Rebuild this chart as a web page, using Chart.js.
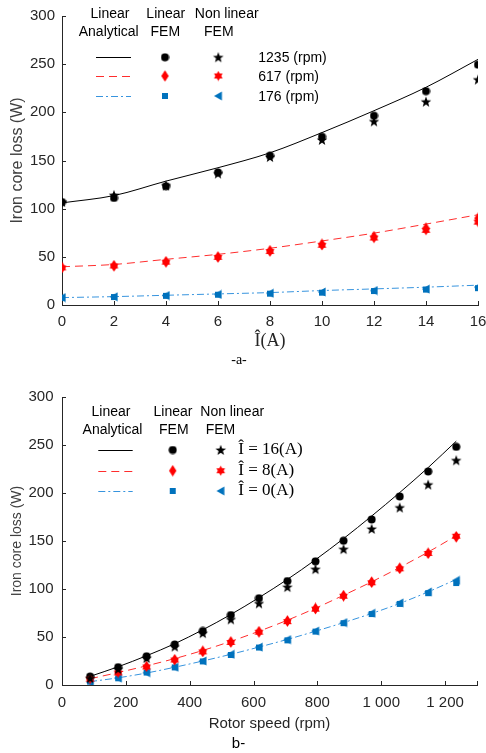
<!DOCTYPE html>
<html><head><meta charset="utf-8">
<script src="https://cdn.jsdelivr.net/npm/chart.js@4/dist/chart.umd.min.js"></script>
<style>
html,body{margin:0;padding:0;background:#fff;}
#wrap{position:relative;width:486px;height:753px;overflow:hidden;}
canvas{position:absolute;left:0;}
</style></head><body>
<div id="wrap">
<canvas id="c1" width="486" height="376" style="top:0;width:486px;height:376px"></canvas>
<canvas id="c2" width="486" height="377" style="top:376px;width:486px;height:377px"></canvas>
</div>
<script>
// ---------- DATA: chart (a) ----------
const currentA = [0, 2, 4, 6, 8, 10, 12, 14, 16];
const a1235Analytical = [106, 113.6, 128.6, 142.5, 158, 179, 201.7, 226, 255];
const a1235LinFEM     = [106.9, 111.1, 123.3, 137.6, 155, 174.6, 196.5, 222, 249.5];
const a1235NonLinFEM  = [107, 114, 124, 136.5, 153.6, 171.4, 190.6, 211, 234];
const a617Analytical  = [39.7, 42.1, 47.4, 52.6, 58.9, 66.5, 74.6, 84, 93.7];
const a617LinFEM      = [39, 40.8, 45, 50, 56.4, 63, 71, 79.8, 90];
const a617NonLinFEM   = [38.5, 40.5, 44.5, 49.5, 55.5, 62, 69.5, 77.5, 86];
const a176Analytical  = [7.7, 8.7, 10.1, 11.5, 12.9, 15, 16.7, 18.5, 20.6];
const a176LinFEM      = [7.5, 8.3, 9.5, 10.7, 11.8, 12.8, 14.5, 16, 17.5];
const a176NonLinFEM   = [7.7, 8.5, 9.8, 11, 12.2, 13.5, 15, 16.5, 18.5];
const xTicksA = [0, 2, 4, 6, 8, 10, 12, 14, 16];
const legendLabelsA = ['1235 (rpm)', '617 (rpm)', '176 (rpm)'];

// ---------- DATA: chart (b) ----------
const speedRpm = [88, 176, 265, 353, 441, 529, 617, 706, 794, 882, 970, 1058, 1147, 1235];
const b16Analytical = [9, 19, 30.5, 43, 57.5, 73.5, 91, 110, 130.5, 152.5, 176, 200.5, 226.5, 254];
const b16LinFEM     = [8.8, 18.6, 29.9, 42.2, 56.3, 72.9, 90.4, 108.3, 128.8, 150.3, 172.4, 196.4, 222.4, 248.1];
const b16NonLinFEM  = [7, 16.5, 28, 40, 54, 68.3, 85, 102, 120.7, 141.5, 162.6, 184.8, 208.7, 234];
const b8Analytical  = [6.5, 13, 20, 27.5, 36, 45.5, 56, 67.5, 80, 93.5, 107.5, 122.5, 138.5, 155.5];
const b8LinFEM      = [6.3, 13, 19.3, 26.4, 35.2, 45, 55.6, 66.8, 79.8, 93.2, 107.3, 121.8, 137.3, 154.2];
const b8NonLinFEM   = [6, 12.5, 18.8, 26, 34.5, 44.3, 55, 66, 79, 92.5, 106.5, 121, 137, 155];
const b0Analytical  = [3.5, 7.5, 12.5, 18.5, 25, 32, 39.5, 47.5, 56, 65, 74.5, 85, 97, 110];
const b0LinFEM      = [3.5, 7, 13, 18.3, 24.6, 31.3, 39, 46.5, 55.6, 64.4, 73.9, 84.5, 95.7, 106.2];
const b0NonLinFEM   = [3, 7.2, 12.8, 18.5, 25, 32, 39.5, 47.3, 56.2, 65, 74.8, 85.5, 97, 109];
const xTicksB = [0, 200, 400, 600, 800, 1000, 1200];
const legendLabelsB = ['\u00CE = 16(A)', '\u00CE = 8(A)', '\u00CE = 0(A)'];

const yTicks = [0, 50, 100, 150, 200, 250, 300];
const legendHeaders = ['Linear', 'Analytical', 'Linear', 'FEM', 'Non linear', 'FEM'];

// ---------- styling ----------
const SANS = '"Liberation Sans", Arial, Helvetica, sans-serif';
const SERIF = '"Liberation Serif", "Times New Roman", serif';
const AXC = '#262626';
const BLUE = '#0072BD';
const RED = '#FF0000';

function mk(w, h, draw) {
  const c = document.createElement('canvas'); c.width = w; c.height = h;
  const g = c.getContext('2d'); draw(g, w, h); return c;
}
function starPath(g, cx, cy, n, ro, ri) {
  g.beginPath();
  for (let i = 0; i < 2 * n; i++) {
    const r = i % 2 ? ri : ro;
    const a = -Math.PI / 2 + i * Math.PI / n;
    const px = cx + r * Math.cos(a), py = cy + r * Math.sin(a);
    i ? g.lineTo(px, py) : g.moveTo(px, py);
  }
  g.closePath();
}
const MK = {
  circle: mk(9, 9, g => { g.fillStyle = '#000'; g.beginPath(); g.arc(4.5, 4.5, 4, 0, Math.PI * 2); g.fill(); }),
  star5: mk(12, 12, g => { g.fillStyle = '#000'; starPath(g, 6, 6.4, 5, 5.6, 2.3); g.fill(); }),
  diamond: mk(9, 12, g => { g.fillStyle = RED; g.beginPath(); g.moveTo(4.5, 0.3); g.lineTo(8.2, 6); g.lineTo(4.5, 11.7); g.lineTo(0.8, 6); g.closePath(); g.fill(); }),
  hex: mk(11, 11, g => { g.fillStyle = RED; starPath(g, 5.5, 5.5, 6, 5, 2.9); g.fill(); }),
  square: mk(8, 8, g => { g.fillStyle = BLUE; g.fillRect(1, 1, 6, 6); }),
  triLeft: mk(10, 10, g => { g.fillStyle = BLUE; g.beginPath(); g.moveTo(0.8, 5); g.lineTo(8.6, 0.6); g.lineTo(8.6, 9.4); g.closePath(); g.fill(); })
};
const LINE_STYLES = [
  { color: '#000000', dash: [] },
  { color: 'rgb(255,45,45)', dash: [8, 5] },
  { color: 'rgb(55,148,222)', dash: [7, 3, 2, 3] }
];
const MARKERS = [[MK.circle, MK.star5], [MK.diamond, MK.hex], [MK.square, MK.triLeft]];

function pts(xs, ys) { return xs.map((x, i) => ({ x: x, y: ys[i] })); }
function seriesSets(xs, groups) {
  const out = [];
  groups.forEach((g, k) => {
    out.push({ data: pts(xs, g[0]), showLine: true, borderColor: LINE_STYLES[k].color, borderWidth: 1,
      borderDash: LINE_STYLES[k].dash, pointRadius: 0, cubicInterpolationMode: 'monotone', order: 2 });
    out.push({ data: pts(xs, g[1]), showLine: false, pointStyle: MARKERS[k][0], pointRadius: 4, order: 1 });
    out.push({ data: pts(xs, g[2]), showLine: false, pointStyle: MARKERS[k][1], pointRadius: 4, order: 0 });
  });
  return out;
}

const inwardTicks = {
  id: 'inwardTicks',
  afterDatasetsDraw(chart) {
    const { ctx, chartArea: a, scales: { x, y } } = chart;
    ctx.save(); ctx.strokeStyle = AXC; ctx.lineWidth = 1; ctx.beginPath();
    const xs = x.ticks.map(t => x.getPixelForValue(t.value)); xs.push(a.right);
    xs.forEach(p => { p = Math.round(p) + 0.5; ctx.moveTo(p, a.bottom); ctx.lineTo(p, a.bottom - 4); });
    y.ticks.forEach(t => { const p = Math.round(y.getPixelForValue(t.value)) + 0.5; ctx.moveTo(a.left, p); ctx.lineTo(a.left + 4, p); });
    ctx.stroke(); ctx.restore();
  }
};

const tableLegend = {
  id: 'tableLegend',
  afterDraw(chart, args, o) {
    const ctx = chart.ctx; ctx.save();
    ctx.fillStyle = '#000'; ctx.font = '14px ' + SANS; ctx.textBaseline = 'middle'; ctx.textAlign = 'center';
    o.headerPos.forEach((p, i) => ctx.fillText(legendHeaders[i], p[0], p[1]));
    o.labels.forEach((lab, i) => {
      const y = o.rowY[i];
      ctx.strokeStyle = LINE_STYLES[i].color; ctx.lineWidth = 1; ctx.setLineDash(LINE_STYLES[i].dash);
      ctx.beginPath(); ctx.moveTo(o.lineX[0], Math.round(y) + 0.5); ctx.lineTo(o.lineX[1], Math.round(y) + 0.5); ctx.stroke();
      ctx.setLineDash([]);
      const m1 = MARKERS[i][0], m2 = MARKERS[i][1];
      ctx.drawImage(m1, o.m1X - m1.width / 2, y - m1.height / 2);
      ctx.drawImage(m2, o.m2X - m2.width / 2, y - m2.height / 2);
      ctx.textAlign = 'left'; ctx.font = o.labelFont; ctx.fillStyle = '#000';
      ctx.fillText(lab, o.labelX, y + (o.labelDy || 0));
    });
    ctx.restore();
  }
};

function build(id, c) {
  return new Chart(document.getElementById(id), {
    type: 'scatter',
    data: { datasets: c.datasets },
    options: {
      responsive: false, animation: false, devicePixelRatio: 1,
      layout: { padding: c.padding },
      plugins: {
        legend: { display: false }, tooltip: { enabled: false },
        title: { display: true, position: 'bottom', text: c.caption, font: c.captionFont, color: '#000', padding: c.captionPad },
        tableLegend: c.legend
      },
      scales: {
        x: {
          type: 'linear', min: c.xMin, max: c.xMax,
          afterBuildTicks: s => { s.ticks = c.xTicks.map(v => ({ value: v })); },
          afterFit: s => { s.height = c.xHeight; s.paddingRight = 0; },
          grid: { drawOnChartArea: false, drawTicks: false },
          border: { color: AXC, width: 1 },
          ticks: { padding: c.xTickPad, font: { family: SANS, size: 15 }, color: AXC, maxRotation: 0, autoSkip: false, callback: c.xFmt },
          title: { display: true, text: c.xTitle, font: c.xTitleFont, color: AXC, padding: { top: 0, bottom: c.xTitlePad } }
        },
        y: {
          type: 'linear', min: 0, max: 300,
          afterBuildTicks: s => { s.ticks = yTicks.map(v => ({ value: v })); },
          afterFit: s => { s.width = 62; },
          grid: { drawOnChartArea: false, drawTicks: false },
          border: { color: AXC, width: 1 },
          ticks: { padding: c.yTickPad, font: { family: SANS, size: 15 }, color: AXC },
          title: { display: true, text: 'Iron core loss (W)', font: { family: SANS, size: c.yTitleSize }, color: '#404040', padding: { top: c.yTitlePad, bottom: 0 } }
        }
      }
    },
    plugins: [inwardTicks, tableLegend]
  });
}

build('c1', {
  datasets: seriesSets(currentA, [
    [a1235Analytical, a1235LinFEM, a1235NonLinFEM],
    [a617Analytical, a617LinFEM, a617NonLinFEM],
    [a176Analytical, a176LinFEM, a176NonLinFEM]
  ]),
  padding: { top: 16, right: 8, left: 0, bottom: 0 },
  caption: '-a-', captionFont: { family: SERIF, size: 14, weight: 'normal' }, captionPad: { top: 0, bottom: 7 },
  xMin: 0, xMax: 16, xTicks: xTicksA, xHeight: 47.2, xTickPad: 8,
  xFmt: v => String(v),
  xTitle: '\u00CE(A)', xTitleFont: { family: SERIF, size: 18 }, xTitlePad: 0,
  yTickPad: 7, yTitleSize: 16, yTitlePad: 8,
  legend: {
    headerPos: [[110, 14.5], [108.7, 32.5], [165.8, 14.5], [165.3, 32.5], [226.7, 14.5], [218.8, 32.5]],
    rowY: [57.3, 76, 96], lineX: [96, 131], m1X: 165, m2X: 218.3, labelX: 258.3,
    labels: legendLabelsA, labelFont: '14px ' + SANS, labelDy: 1
  }
});

build('c2', {
  datasets: seriesSets(speedRpm, [
    [b16Analytical, b16LinFEM, b16NonLinFEM],
    [b8Analytical, b8LinFEM, b8NonLinFEM],
    [b0Analytical, b0LinFEM, b0NonLinFEM]
  ]),
  padding: { top: 21, right: 9, left: 0, bottom: 0 },
  caption: 'b-', captionFont: { family: SANS, size: 15, weight: 'normal' }, captionPad: { top: 0, bottom: 0 },
  xMin: 0, xMax: 1300, xTicks: xTicksB, xHeight: 50, xTickPad: 9,
  xFmt: v => v >= 1000 ? String(v).replace(/(\d)(\d{3})$/, '$1 $2') : String(v),
  xTitle: 'Rotor speed (rpm)', xTitleFont: { family: SANS, size: 15 }, xTitlePad: 2.3,
  yTickPad: 8.5, yTitleSize: 14, yTitlePad: 8.5,
  legend: {
    headerPos: [[111, 36.3], [112.5, 54.5], [173, 36.3], [173.8, 54.5], [232.2, 36.3], [220.5, 54.5]],
    rowY: [74, 94.7, 115], lineX: [98.3, 132.7], m1X: 172.7, m2X: 220.7, labelX: 238.3,
    labels: legendLabelsB, labelFont: '17px ' + SERIF, labelDy: 0
  }
});
</script>
</body></html>
